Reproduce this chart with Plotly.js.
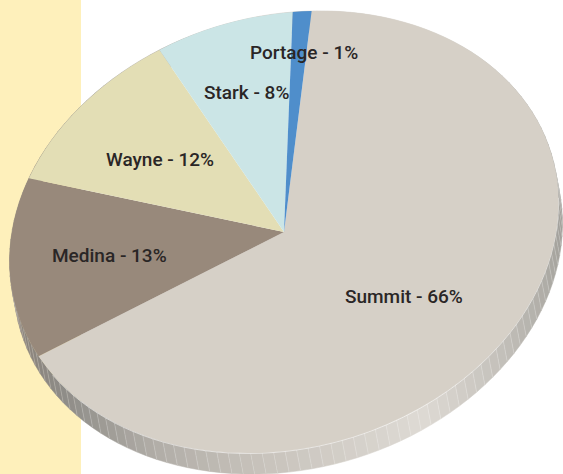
<!DOCTYPE html>
<html>
<head>
<meta charset="utf-8">
<script src="https://cdn.plot.ly/plotly-3.0.1.min.js"></script>
<style>html,body{margin:0;padding:0;background:#fff}#chart{width:563px;height:474px}</style>
</head>
<body>
<div id="chart"></div>
<script>
// --- Data, clockwise from the Summit slice
const counties = ["Summit", "Medina", "Wayne", "Stark", "Portage"];
const shares = [66, 13.4, 11.5, 8, 1.1];
const sliceColors = ["#d6d0c7", "#98897b", "#e3deb5", "#cbe5e6", "#4f8ecb"];
const labelX = [404, 109, 160, 246, 304];
const labelY = [296, 255, 159, 92, 52];
const startAngle = 18;

// --- Tilted disc geometry (pixels on the hidden axes)
const centre = [284, 232], semiMajor = 278.5, semiMinor = 216, tiltDeg = 15.6;
const depth = [4, 21];
const facetCount = 150;
const rimStopX = [10, 60, 150, 250, 420, 500, 545, 565];
const rimStopC = [[138,128,118],[142,140,135],[176,172,166],[198,193,186],[222,218,212],[195,192,186],[174,172,166],[157,155,150]];

const c = Math.cos(tiltDeg * Math.PI / 180), s = Math.sin(tiltDeg * Math.PI / 180);
function rimPoint(deg) {
  const p = deg * Math.PI / 180, u = semiMajor * Math.sin(p), v = -semiMinor * Math.cos(p);
  return [centre[0] + u * c + v * s, centre[1] - u * s + v * c];
}
function rimColor(x) {
  let i = 0;
  while (i < rimStopX.length - 2 && x > rimStopX[i + 1]) i++;
  const t = Math.min(1, Math.max(0, (x - rimStopX[i]) / (rimStopX[i + 1] - rimStopX[i])));
  const m = rimStopC[i].map((v, k) => Math.round(v + (rimStopC[i + 1][k] - v) * t));
  return "rgb(" + m.join(",") + ")";
}

const traces = [];
const stripeX = [], stripeY = [];
const edgeX = [], edgeY = [];
for (let i = 0; i < facetCount; i++) {
  const deg = i * 360 / facetCount;
  const a = rimPoint(deg), b = rimPoint((i + 1) * 360 / facetCount);
  const col = rimColor((a[0] + b[0]) / 2);
  traces.push({
    type: "scatter", mode: "lines", fill: "toself", fillcolor: col, hoverinfo: "skip",
    line: {color: col, width: 0.5}, showlegend: false,
    x: [a[0], b[0], b[0] + depth[0], a[0] + depth[0], a[0]],
    y: [a[1], b[1], b[1] + depth[1], a[1] + depth[1], a[1]]
  });
  stripeX.push(a[0], a[0] + depth[0], null);
  stripeY.push(a[1], a[1] + depth[1], null);
  if (deg >= 100 && deg <= 250) { edgeX.push(a[0]); edgeY.push(a[1] + 0.4); }
}
traces.push({type: "scatter", mode: "lines", x: stripeX, y: stripeY, hoverinfo: "skip", showlegend: false,
  line: {color: "rgba(255,255,255,0.3)", width: 0.7}});
traces.push({type: "scatter", mode: "lines", x: edgeX, y: edgeY, hoverinfo: "skip", showlegend: false,
  line: {color: "rgba(255,255,255,0.55)", width: 1, shape: "spline"}});

const pieIndex = traces.length;
traces.push({
  type: "pie", labels: counties, values: shares, sort: false, direction: "clockwise",
  rotation: startAngle, textinfo: "none", hoverinfo: "label+percent", showlegend: false,
  marker: {colors: sliceColors, line: {width: 0}}, domain: {x: [0, 1], y: [0, 1]}
});

const layout = {
  width: 563, height: 474, margin: {l: 0, r: 0, t: 0, b: 0},
  paper_bgcolor: "#ffffff", plot_bgcolor: "rgba(0,0,0,0)", showlegend: false,
  xaxis: {range: [0, 563], visible: false, fixedrange: true},
  yaxis: {range: [474, 0], visible: false, fixedrange: true},
  shapes: [{type: "rect", layer: "below", xref: "x", yref: "y", x0: 0, x1: 81, y0: 0, y1: 474,
    fillcolor: "#fef0bb", line: {width: 0}}],
  annotations: counties.map((n, i) => ({
    xref: "x", yref: "y", x: labelX[i], y: labelY[i], showarrow: false,
    text: n + " - " + Math.round(shares[i]) + "%",
    font: {family: "Roboto, 'Liberation Sans', sans-serif", size: 19, weight: 500, color: "#2a2626"}
  }))
};

const gd = document.getElementById("chart");
Plotly.newPlot(gd, traces, layout, {displayModeBar: false, staticPlot: true}).then(() => {
  const cd = gd.calcdata[pieIndex][0];
  const r = cd.r, k = 1 / r;
  const A = semiMajor * k * c, B = -semiMajor * k * s, C = semiMinor * k * s, D = semiMinor * k * c;
  const E = centre[0] - (A * cd.cx + C * cd.cy), F = centre[1] - (B * cd.cx + D * cd.cy);
  gd.querySelector(".pielayer").setAttribute("transform",
    "matrix(" + [A, B, C, D, E, F].join(" ") + ")");
});
</script>
</body>
</html>
